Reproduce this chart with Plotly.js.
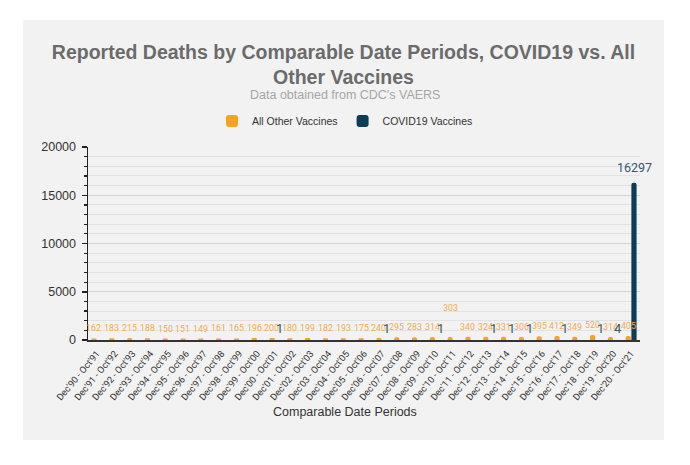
<!DOCTYPE html>
<html>
<head>
<meta charset="utf-8">
<script src="https://cdn.plot.ly/plotly-3.0.1.min.js"></script>
<style>
  html, body { margin: 0; padding: 0; background: #ffffff; width: 690px; height: 465px; overflow: hidden; }
  #card { position: absolute; left: 23px; top: 20px; width: 641px; height: 420px; background: #f2f2f2; }
</style>
</head>
<body>
<div id="card"></div>
<script>
// Comparable date periods (Dec of one year through Oct of the next)
const periods = [
  "Dec'90 - Oct'91", "Dec'91 - Oct'92", "Dec'92 - Oct'93", "Dec'93 - Oct'94", "Dec'94 - Oct'95",
  "Dec'95 - Oct'96", "Dec'96 - Oct'97", "Dec'97 - Oct'98", "Dec'98 - Oct'99", "Dec'99 - Oct'00",
  "Dec'00 - Oct'01", "Dec'01 - Oct'02", "Dec'02 - Oct'03", "Dec'03 - Oct'04", "Dec'04 - Oct'05",
  "Dec'05 - Oct'06", "Dec'06 - Oct'07", "Dec'07 - Oct'08", "Dec'08 - Oct'09", "Dec'09 - Oct'10",
  "Dec'10 - Oct'11", "Dec'11 - Oct'12", "Dec'12 - Oct'13", "Dec'13 - Oct'14", "Dec'14 - Oct'15",
  "Dec'15 - Oct'16", "Dec'16 - Oct'17", "Dec'17 - Oct'18", "Dec'18 - Oct'19", "Dec'19 - Oct'20",
  "Dec'20 - Oct'21"
];

// Reported deaths, all other vaccines
const otherDeaths = [
  162, 183, 215, 188, 150, 151, 149, 161, 165, 196,
  200, 180, 199, 182, 193, 175, 240, 295, 283, 314,
  303, 340, 324, 331, 306, 395, 412, 349, 520, 314,
  405
];

// Reported deaths, COVID19 vaccines
const covidDeaths = [
  0, 0, 0, 0, 0, 0, 0, 0, 0, 0,
  1, 0, 0, 0, 0, 0, 1, 0, 0, 1,
  0, 0, 1, 1, 1, 0, 1, 0, 1, 4,
  16297
];

const yTicks = [0, 5000, 10000, 15000, 20000];
const yRange = [0, 20000];

const ORANGE = '#f5a31f';
const ORANGE_TEXT = '#f2ad4e';
const NAVY = '#0b3e56';
const NAVY_TEXT = '#2c5c70';

const traces = [
  {
    type: 'bar', name: 'All Other Vaccines', x: periods, y: otherDeaths,
    marker: { color: ORANGE }, hoverinfo: 'x+y'
  },
  {
    type: 'bar', name: 'COVID19 Vaccines', x: periods, y: covidDeaths,
    marker: { color: NAVY }, hoverinfo: 'x+y'
  }
];

// Value labels over the bars
const annotations = [];
otherDeaths.forEach((v, i) => {
  annotations.push({
    x: periods[i], y: v, xref: 'x', yref: 'y', text: String(v),
    showarrow: false, yanchor: 'bottom', xshift: -3,
    yshift: (periods[i] === "Dec'10 - Oct'11") ? 22 : 3,
    font: { family: 'Roboto, Arial, sans-serif', size: 8.8, color: ORANGE_TEXT }
  });
});
covidDeaths.forEach((v, i) => {
  if (v <= 0) return;
  const big = v > 1000;
  annotations.push({
    x: periods[i], y: v, xref: 'x', yref: 'y', text: String(v),
    showarrow: false, yanchor: 'bottom', xshift: big ? 3 : 5, yshift: big ? 7 : 3,
    borderpad: 0,
    font: { family: 'Roboto, Arial, sans-serif', size: big ? 12.5 : 13, color: NAVY_TEXT }
  });
});

annotations.push({
  xref: 'paper', yref: 'paper', x: 0.4656, y: 1.269, yanchor: 'middle',
  text: "Data obtained from CDC's VAERS", showarrow: false,
  font: { family: 'Liberation Sans, Arial, sans-serif', size: 12.5, color: '#a6a6a6' }
});
annotations.push({
  xref: 'paper', yref: 'paper', x: 0.4656, y: -0.373, yanchor: 'middle',
  text: 'Comparable Date Periods', showarrow: false,
  font: { family: 'Liberation Sans, Arial, sans-serif', size: 12.5, color: '#333333' }
});

const layout = {
  width: 641, height: 420,
  paper_bgcolor: '#f2f2f2', plot_bgcolor: '#f2f2f2',
  margin: { l: 65, r: 24, t: 127, b: 100, autoexpand: false },
  title: {
    text: 'Reported Deaths by Comparable Date Periods, COVID19 vs. All<br>Other Vaccines',
    x: 0.5, xanchor: 'center', y: 0.907, yanchor: 'middle', yref: 'container',
    font: { family: 'Liberation Sans, Arial, sans-serif', size: 19.5, color: '#6b6b6b', weight: 'bold' }
  },
  showlegend: true,
  legend: {
    orientation: 'h', x: 0.4656, xanchor: 'center', y: 1.135, yanchor: 'middle',
    font: { family: 'Liberation Sans, Arial, sans-serif', size: 10.5, color: '#333333' },
    bgcolor: 'rgba(0,0,0,0)', itemwidth: 30, traceorder: 'normal'
  },
  barmode: 'group', bargap: 0.35, bargroupgap: 0.1, barcornerradius: 3,
  xaxis: {
    type: 'category', range: [-0.5, periods.length - 0.5], tickangle: -50, showgrid: false,
    showline: true, linecolor: '#333333', linewidth: 1.5,
    ticks: '', automargin: false, ticklabelstandoff: 3,
    tickfont: { family: 'Roboto, Arial, sans-serif', size: 9.3, color: '#333333' }
  },
  yaxis: {
    range: yRange, tickvals: yTicks, ticktext: yTicks.map(String),
    showline: true, linecolor: '#222222', linewidth: 1.5,
    ticks: 'outside', ticklen: 5, tickcolor: '#222222', tickwidth: 1.5,
    gridcolor: '#d2d2d2', gridwidth: 1.2, zeroline: false,
    minor: { dtick: 1000, ticks: 'outside', ticklen: 3, tickcolor: '#222222', tickwidth: 1.2, showgrid: true, gridcolor: '#e2e2e2', gridwidth: 1 },
    automargin: false, ticklabelstandoff: 3,
    tickfont: { family: 'Liberation Sans, Arial, sans-serif', size: 12.5, color: '#333333' }
  },
  // inner half of the tick marks, so that they cross the axis line
  yaxis2: {
    overlaying: 'y', side: 'left', range: yRange, tickvals: yTicks,
    showticklabels: false, showgrid: false, zeroline: false, showline: false,
    ticks: 'inside', ticklen: 5, tickcolor: '#222222', tickwidth: 1.5,
    minor: { dtick: 1000, ticks: 'inside', ticklen: 3, tickcolor: '#222222', tickwidth: 1.2, showgrid: false },
    automargin: false
  },
  annotations: annotations
};

Plotly.newPlot('card', traces, layout, { displayModeBar: false, staticPlot: true });
</script>
</body>
</html>
